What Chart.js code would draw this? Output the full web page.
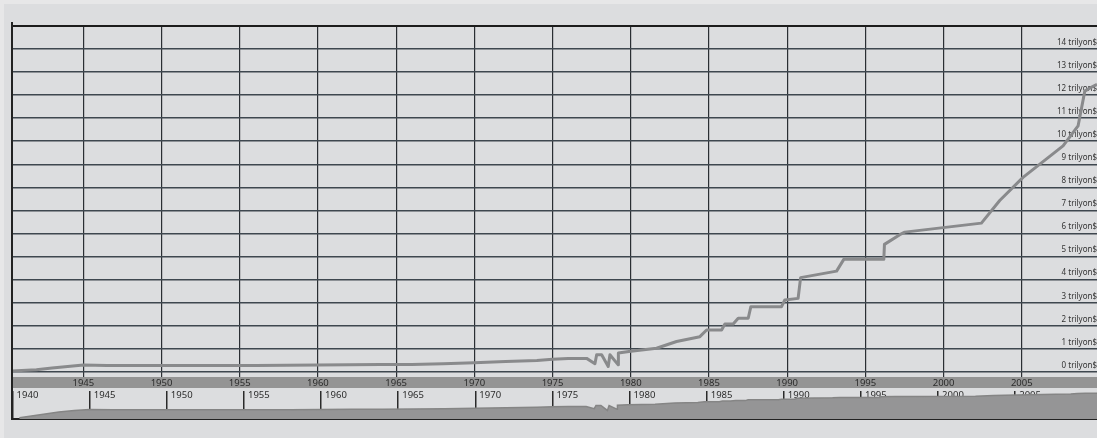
<!DOCTYPE html>
<html><head><meta charset="utf-8">
<script src="https://cdn.jsdelivr.net/npm/chart.js@4.4.1/dist/chart.umd.min.js"></script>
<style>
html,body{margin:0;padding:0;width:1097px;height:438px;overflow:hidden;background:#e7e7e8;}
#bg{position:absolute;left:4px;top:4px;width:1093px;height:434px;background:#dcdddf;}
#main{position:absolute;left:10px;top:21px;width:1087px;height:367px;}
#nav{position:absolute;left:10px;top:388px;width:1087px;height:33px;}
#lb{position:absolute;left:11px;top:22px;width:2px;height:398px;background:#222;}
</style></head><body>
<div id="bg"></div>
<canvas id="main" width="1087" height="367"></canvas>
<canvas id="nav" width="1087" height="33"></canvas>
<div id="lb"></div>
<script>
// Debt ceiling (trillion $) by fractional year
const years = [1940.44, 1942.0, 1943.0, 1944.0, 1945.0, 1946.5, 1954.5, 1956.0, 1958.0, 1960.0, 1962.0, 1964.0, 1966.0, 1968.0, 1970.0, 1972.0, 1974.0, 1975.0, 1976.0, 1977.18,
  1977.71, 1977.82, 1978.14, 1978.56, 1978.67, 1979.20, 1979.21, 1979.88, 1981.65, 1982.93, 1984.42, 1984.85, 1985.81, 1986.02, 1986.55, 1986.87, 1987.51, 1987.68, 1989.64, 1989.85,
  1990.70, 1990.86, 1993.16, 1993.62, 1996.18, 1996.22, 1997.20, 1997.52, 2002.42, 2003.59, 2005.08, 2007.64, 2008.60, 2009.03, 2009.56, 2009.81, 2010.3];
const debt = [0.045, 0.10, 0.17, 0.24, 0.30, 0.28, 0.28, 0.28, 0.29, 0.30, 0.31, 0.32, 0.33, 0.36, 0.40, 0.45, 0.50, 0.55, 0.59, 0.59,
  0.36, 0.75, 0.75, 0.24, 0.75, 0.31, 0.82, 0.89, 1.03, 1.32, 1.53, 1.82, 1.82, 2.08, 2.08, 2.33, 2.33, 2.83, 2.83, 3.12,
  3.19, 4.09, 4.37, 4.88, 4.88, 5.53, 5.95, 6.06, 6.45, 7.43, 8.43, 9.80, 10.66, 12.17, 12.38, 12.46, 12.5];
const mainTickYears = [1945, 1950, 1955, 1960, 1965, 1970, 1975, 1980, 1985, 1990, 1995, 2000, 2005];
const navTickYears = [1940, 1945, 1950, 1955, 1960, 1965, 1970, 1975, 1980, 1985, 1990, 1995, 2000, 2005];
const yTickValues = [0,1,2,3,4,5,6,7,8,9,10,11,12,13,14,15];
const yUnit = ' trilyon$';

const FONT = "'Noto Sans', 'Liberation Sans', sans-serif";
Chart.defaults.font.family = FONT;

const points = years.map((y, i) => ({x: y, y: debt[i]}));

const bandPlugin = {
  id: 'band',
  beforeDraw(chart) {
    const {ctx, chartArea: a} = chart;
    ctx.save();
    ctx.fillStyle = '#949494';
    ctx.fillRect(a.left, a.bottom + 5, chart.width - a.left, chart.height - (a.bottom + 5));
    ctx.restore();
  }
};

const navLabelPlugin = {
  id: 'navLabels',
  beforeDatasetsDraw(chart) {
    const {ctx} = chart;
    const xs = chart.scales.x;
    ctx.save();
    ctx.font = '9.5px ' + FONT;
    ctx.fillStyle = '#2b2b2b';
    ctx.textBaseline = 'middle';
    ctx.textAlign = 'left';
    navTickYears.forEach(v => ctx.fillText(String(v), xs.getPixelForValue(v) + 4, 7.5));
    ctx.restore();
  }
};

new Chart(document.getElementById('main'), {
  type: 'line',
  data: {datasets: [{data: points, borderColor: '#898a8c', borderWidth: 3, pointRadius: 0, tension: 0, borderJoinStyle: 'round', fill: false}]},
  options: {
    responsive: false, animation: false, events: [],
    layout: {padding: {top: 2, left: 2, right: 0, bottom: 0}},
    plugins: {legend: {display: false}, tooltip: {enabled: false}},
    scales: {
      x: {
        type: 'linear', min: 1940.44, max: 2009.81,
        afterBuildTicks: a => { a.ticks = mainTickYears.map(v => ({value: v})); },
        afterFit: a => { a.height = 16; },
        grid: {color: '#2a2e33', lineWidth: 1.2, tickLength: 5, drawTicks: true, tickColor: '#2a2e33'},
        border: {display: false},
        ticks: {padding: 0.3, color: '#2b2b2b', font: {size: 9.5}, maxRotation: 0, autoSkip: false, callback: v => String(v)}
      },
      y: {
        position: 'right', min: 0, max: 15,
        afterBuildTicks: a => { a.ticks = yTickValues.map(v => ({value: v})); },
        afterFit: a => { a.width = 0; },
        grid: {color: c => (c.tick && c.tick.value === 15) ? '#1c1c1c' : '#3e474f', lineWidth: c => (c.tick && c.tick.value === 15) ? 2 : 1.5, drawTicks: false},
        border: {display: false},
        ticks: {mirror: true, padding: 0, labelOffset: -6.5, color: '#333', font: {size: 8}, callback: v => v === 15 ? '' : v + yUnit}
      }
    }
  },
  plugins: [bandPlugin]
});

new Chart(document.getElementById('nav'), {
  type: 'line',
  data: {datasets: [{data: points, borderColor: '#858585', borderWidth: 1.5, backgroundColor: '#959596', fill: 'start', pointRadius: 0, tension: 0}]},
  options: {
    responsive: false, animation: false, events: [],
    layout: {padding: {top: 3, left: 2.6, right: 0, bottom: 2}},
    plugins: {legend: {display: false}, tooltip: {enabled: false}},
    scales: {
      x: {
        type: 'linear', min: 1940, max: 2010.3, z: 1,
        afterBuildTicks: a => { a.ticks = navTickYears.map(v => ({value: v})); },
        afterFit: a => { a.height = 0; },
        grid: {color: '#2a2a2a', lineWidth: 1.5, drawTicks: false},
        border: {display: true, color: '#222', width: 2},
        ticks: {display: false}
      },
      y: {type: 'logarithmic', min: 0.0337, max: 21.2, display: false}
    }
  },
  plugins: [navLabelPlugin]
});
</script>
</body></html>
